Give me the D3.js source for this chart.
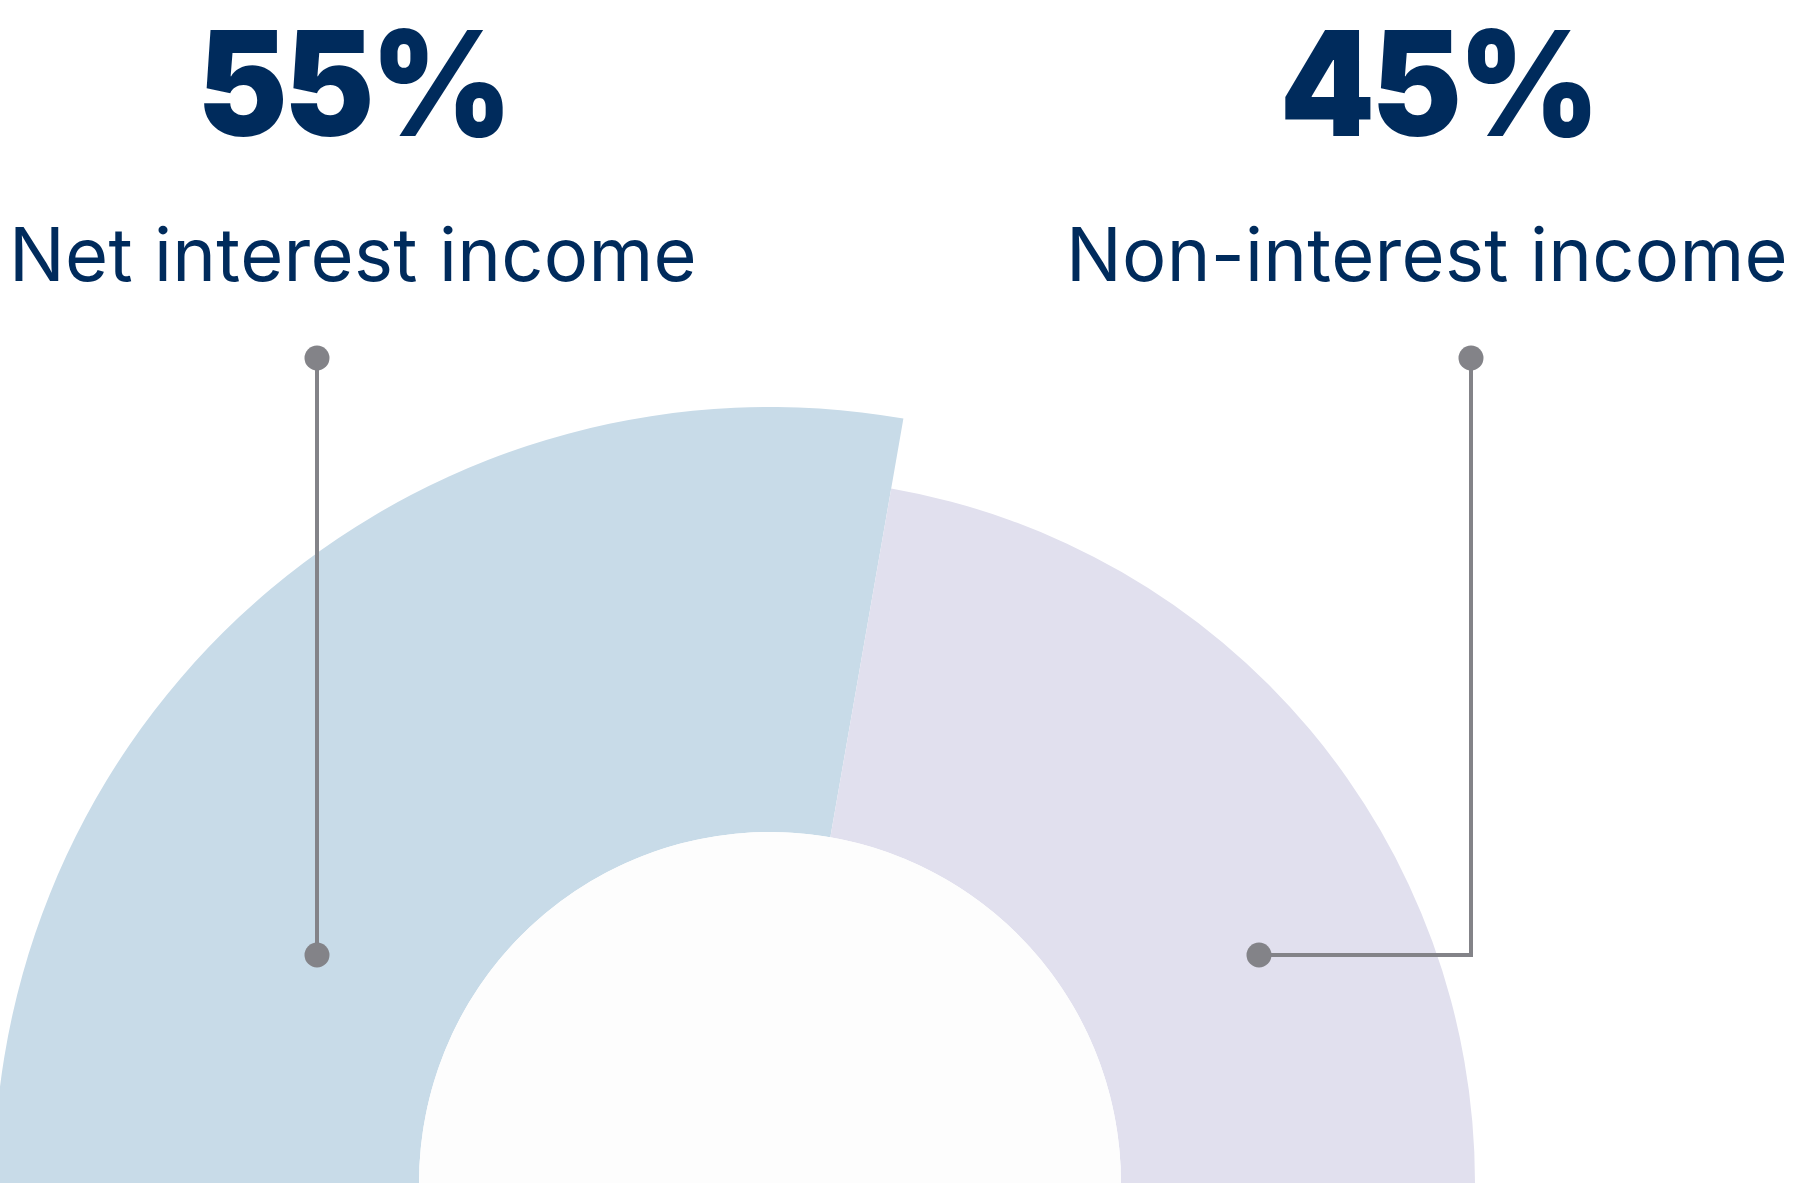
<!DOCTYPE html>
<html>
<head>
<meta charset="utf-8">
<script src="https://cdn.jsdelivr.net/npm/d3@7"></script>
<style>
  html, body { margin: 0; padding: 0; background: #ffffff; }
  svg { display: block; }
</style>
</head>
<body>
<svg id="chart" width="1816" height="1185"></svg>
<script>
const categories = ["Net interest income", "Non-interest income"];
const values = [55.5, 44.5];
const valueLabels = ["55%", "45%"];
const colors = ["#c8dbe8", "#e1e0ee"];

const W = 1816, H = 1185;
const cx = 770, cy = 1183;
const innerR = 351;
const outerR = [776, 705];

const svg = d3.select("#chart");

const pie = d3.pie().sort(null).startAngle(-Math.PI / 2).endAngle(Math.PI / 2);
const arcs = pie(values);

const g = svg.append("g").attr("transform", `translate(${cx},${cy})`);
g.selectAll("path.seg")
  .data(arcs)
  .join("path")
  .attr("class", "seg")
  .attr("fill", (d, i) => colors[i])
  .attr("d", (d, i) => d3.arc().innerRadius(innerR).outerRadius(outerR[i])(d));

g.append("path")
  .attr("fill", "#fdfdfd")
  .attr("d", d3.arc().innerRadius(0).outerRadius(innerR).startAngle(-Math.PI / 2).endAngle(Math.PI / 2)());

const labelX = [353, 1427];
const pctX = [353, 1438];
const navy = "#002b5c";

svg.selectAll("text.pct")
  .data(valueLabels)
  .join("text")
  .attr("class", "pct")
  .attr("transform", (d, i) => `translate(${pctX[i]},136) scale(0.93,1)`)
  .attr("text-anchor", "middle")
  .attr("fill", navy)
  .style("font-family", "Inter, 'Open Sans', sans-serif")
  .style("font-weight", 900)
  .style("font-size", "146px")
  .style("letter-spacing", "-4px")
  .text(d => d);

svg.selectAll("text.cat")
  .data(categories)
  .join("text")
  .attr("class", "cat")
  .attr("x", (d, i) => labelX[i])
  .attr("y", 281)
  .attr("text-anchor", "middle")
  .attr("fill", navy)
  .style("font-family", "Inter, 'Open Sans', sans-serif")
  .style("font-weight", 400)
  .style("font-size", "74px")
  .style("letter-spacing", "0.3px")
  .text(d => d);

const lineColor = "#838388";
const leaders = [
  [[317, 358], [317, 955]],
  [[1471, 358], [1471, 955], [1259, 955]]
];
const line = d3.line();
svg.selectAll("path.leader")
  .data(leaders)
  .join("path")
  .attr("class", "leader")
  .attr("fill", "none")
  .attr("stroke", lineColor)
  .attr("stroke-width", 4)
  .attr("d", d => line(d));

const dots = leaders.flatMap(l => [l[0], l[l.length - 1]]);
svg.selectAll("circle.dot")
  .data(dots)
  .join("circle")
  .attr("class", "dot")
  .attr("cx", d => d[0])
  .attr("cy", d => d[1])
  .attr("r", 12.5)
  .attr("fill", lineColor);
</script>
</body>
</html>
